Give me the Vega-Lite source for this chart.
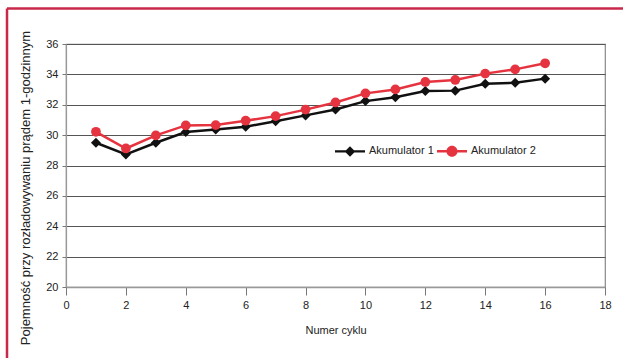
{
  "$schema": "https://vega.github.io/schema/vega-lite/v6.json",
  "width": 539,
  "height": 243,
  "autosize": {"type": "none"},
  "padding": {"left": 66, "top": 44, "right": 18, "bottom": 71},
  "background": "white",
  "config": {
    "font": "Liberation Sans",
    "view": {"stroke": "#888888", "strokeWidth": 1.2},
    "axis": {"labelFlush": false, "labelOverlap": false},
    "axisX": {
      "grid": false,
      "tickSize": 8,
      "tickColor": "#777777",
      "domainColor": "#999999",
      "domainWidth": 1.5,
      "labelPadding": 4,
      "labelFontSize": 11,
      "labelColor": "#222222",
      "titleFontSize": 11,
      "titleFontWeight": "normal",
      "titleColor": "#222222",
      "titleY": 43,
      "titleBaseline": "middle"
    },
    "axisY": {
      "grid": true,
      "gridColor": "#555555",
      "gridWidth": 1,
      "tickSize": 4,
      "tickColor": "#777777",
      "domainColor": "#999999",
      "domainWidth": 1.2,
      "labelPadding": 4,
      "labelFontSize": 11,
      "labelColor": "#222222",
      "titleFontSize": 13,
      "titleFontWeight": "normal",
      "titleColor": "#222222",
      "titleX": -41,
      "titleY": 143.5,
      "titleAngle": 270,
      "titleAlign": "center",
      "titleBaseline": "middle"
    }
  },
  "datasets": {
    "cap": [
      {"cykl": 1, "seria": "Akumulator 1", "pojemnosc": 29.5},
      {"cykl": 2, "seria": "Akumulator 1", "pojemnosc": 28.73},
      {"cykl": 3, "seria": "Akumulator 1", "pojemnosc": 29.5},
      {"cykl": 4, "seria": "Akumulator 1", "pojemnosc": 30.2},
      {"cykl": 5, "seria": "Akumulator 1", "pojemnosc": 30.37},
      {"cykl": 6, "seria": "Akumulator 1", "pojemnosc": 30.55},
      {"cykl": 7, "seria": "Akumulator 1", "pojemnosc": 30.92},
      {"cykl": 8, "seria": "Akumulator 1", "pojemnosc": 31.3},
      {"cykl": 9, "seria": "Akumulator 1", "pojemnosc": 31.69},
      {"cykl": 10, "seria": "Akumulator 1", "pojemnosc": 32.24},
      {"cykl": 11, "seria": "Akumulator 1", "pojemnosc": 32.5},
      {"cykl": 12, "seria": "Akumulator 1", "pojemnosc": 32.9},
      {"cykl": 13, "seria": "Akumulator 1", "pojemnosc": 32.93},
      {"cykl": 14, "seria": "Akumulator 1", "pojemnosc": 33.38},
      {"cykl": 15, "seria": "Akumulator 1", "pojemnosc": 33.45},
      {"cykl": 16, "seria": "Akumulator 1", "pojemnosc": 33.72},
      {"cykl": 1, "seria": "Akumulator 2", "pojemnosc": 30.22},
      {"cykl": 2, "seria": "Akumulator 2", "pojemnosc": 29.12},
      {"cykl": 3, "seria": "Akumulator 2", "pojemnosc": 29.98},
      {"cykl": 4, "seria": "Akumulator 2", "pojemnosc": 30.64},
      {"cykl": 5, "seria": "Akumulator 2", "pojemnosc": 30.66},
      {"cykl": 6, "seria": "Akumulator 2", "pojemnosc": 30.95},
      {"cykl": 7, "seria": "Akumulator 2", "pojemnosc": 31.25},
      {"cykl": 8, "seria": "Akumulator 2", "pojemnosc": 31.68},
      {"cykl": 9, "seria": "Akumulator 2", "pojemnosc": 32.15},
      {"cykl": 10, "seria": "Akumulator 2", "pojemnosc": 32.75},
      {"cykl": 11, "seria": "Akumulator 2", "pojemnosc": 33.01},
      {"cykl": 12, "seria": "Akumulator 2", "pojemnosc": 33.5},
      {"cykl": 13, "seria": "Akumulator 2", "pojemnosc": 33.63},
      {"cykl": 14, "seria": "Akumulator 2", "pojemnosc": 34.05},
      {"cykl": 15, "seria": "Akumulator 2", "pojemnosc": 34.33},
      {"cykl": 16, "seria": "Akumulator 2", "pojemnosc": 34.73}
    ],
    "xticks": [
      {"cykl": 0}, {"cykl": 2}, {"cykl": 4}, {"cykl": 6}, {"cykl": 8},
      {"cykl": 10}, {"cykl": 12}, {"cykl": 14}, {"cykl": 16}, {"cykl": 18}
    ],
    "frame": [{"id": 1}]
  },
  "layer": [
    {
      "encoding": {
        "x": {
          "field": "cykl", "type": "quantitative",
          "scale": {"domain": [0, 18], "nice": false, "zero": false},
          "axis": {"title": "Numer cyklu", "values": [0, 2, 4, 6, 8, 10, 12, 14, 16, 18]}
        },
        "y": {
          "field": "pojemnosc", "type": "quantitative",
          "scale": {"domain": [20, 36], "nice": false, "zero": false},
          "axis": {"title": "Pojemność przy rozładowywaniu prądem 1-godzinnym", "values": [20, 22, 24, 26, 28, 30, 32, 34, 36]}
        }
      },
      "layer": [
        {
          "data": {"name": "cap"},
          "transform": [{"filter": "datum.seria === 'Akumulator 1'"}],
          "mark": {
            "type": "line",
            "color": "#111111",
            "strokeWidth": 2.5,
            "point": {"shape": "diamond", "filled": true, "size": 100, "color": "#111111", "opacity": 1}
          }
        },
        {
          "data": {"name": "cap"},
          "transform": [{"filter": "datum.seria === 'Akumulator 2'"}],
          "mark": {
            "type": "line",
            "color": "#e5333f",
            "strokeWidth": 2.5,
            "point": {"shape": "circle", "filled": true, "size": 95, "color": "#e5333f", "opacity": 1}
          }
        },
        {
          "data": {"name": "cap"},
          "transform": [{"filter": "datum.cykl < 0"}],
          "mark": {"type": "point", "filled": true},
          "encoding": {
            "color": {
              "field": "seria", "type": "nominal",
              "scale": {"domain": ["Akumulator 1", "Akumulator 2"], "range": ["#111111", "#e5333f"]},
              "legend": {
                "title": null,
                "orient": "none",
                "legendX": 269,
                "legendY": 92,
                "direction": "horizontal",
                "padding": 0,
                "symbolSize": 900,
                "symbolStrokeWidth": 0,
                "symbolOpacity": 1,
                "labelFontSize": 11,
                "labelColor": "#222222",
                "labelOffset": 4,
                "columnPadding": 3
              }
            },
            "shape": {
              "field": "seria", "type": "nominal",
              "scale": {
                "domain": ["Akumulator 1", "Akumulator 2"],
                "range": [
                  "M-1,-0.08L1,-0.08L1,0.08L-1,0.08Z M0,-0.35L0.35,0L0,0.35L-0.35,0Z",
                  "M-1,-0.08L1,-0.08L1,0.08L-1,0.08Z M-0.37,0A0.37,0.37 0 1,1 0.37,0A0.37,0.37 0 1,1 -0.37,0Z"
                ]
              },
              "legend": {
                "title": null,
                "orient": "none",
                "legendX": 269,
                "legendY": 92,
                "direction": "horizontal",
                "padding": 0,
                "symbolSize": 900,
                "symbolStrokeWidth": 0,
                "symbolOpacity": 1,
                "labelFontSize": 11,
                "labelColor": "#222222",
                "labelOffset": 4,
                "columnPadding": 3
              }
            }
          }
        },
        {
          "data": {"name": "xticks"},
          "mark": {"type": "tick", "orient": "vertical", "size": 16, "thickness": 1, "color": "#777777"},
          "encoding": {
            "y": {"datum": 20, "type": "quantitative", "scale": {"domain": [20, 36], "nice": false, "zero": false}}
          }
        }
      ]
    },
    {
      "data": {"name": "frame"},
      "mark": {"type": "rule", "color": "#c9284a", "strokeWidth": 2.5, "clip": false},
      "encoding": {
        "x": {
          "datum": -1.97, "type": "quantitative",
          "scale": {"domain": [0, 18], "nice": false, "zero": false},
          "axis": {"title": "Numer cyklu", "values": [0, 2, 4, 6, 8, 10, 12, 14, 16, 18]}
        },
        "x2": {"datum": 19.5},
        "y": {
          "datum": 38.34, "type": "quantitative",
          "scale": {"domain": [20, 36], "nice": false, "zero": false},
          "axis": {"title": "Pojemność przy rozładowywaniu prądem 1-godzinnym", "values": [20, 22, 24, 26, 28, 30, 32, 34, 36]}
        }
      }
    },
    {
      "data": {"name": "frame"},
      "mark": {"type": "rule", "color": "#c9284a", "strokeWidth": 2.5, "clip": false},
      "encoding": {
        "x": {
          "datum": -1.97, "type": "quantitative",
          "scale": {"domain": [0, 18], "nice": false, "zero": false},
          "axis": {"title": "Numer cyklu", "values": [0, 2, 4, 6, 8, 10, 12, 14, 16, 18]}
        },
        "y": {
          "datum": 38.34, "type": "quantitative",
          "scale": {"domain": [20, 36], "nice": false, "zero": false},
          "axis": {"title": "Pojemność przy rozładowywaniu prądem 1-godzinnym", "values": [20, 22, 24, 26, 28, 30, 32, 34, 36]}
        },
        "y2": {"datum": 14}
      }
    }
  ]
}
